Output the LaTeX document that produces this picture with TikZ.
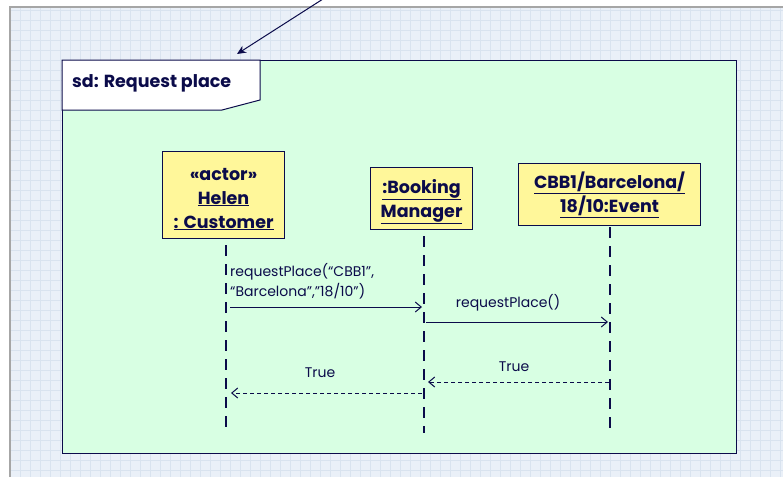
\documentclass[tikz,border=0pt]{standalone}
\usepackage{fontspec}
\setmainfont{Poppins}
\usetikzlibrary{arrows.meta}
\definecolor{ink}{HTML}{0B0B4A}
\definecolor{sheet}{HTML}{EAF0F8}
\definecolor{gridline}{HTML}{D9E3EF}
\definecolor{framefill}{HTML}{D8FFE3}
\definecolor{boxfill}{HTML}{FFF79A}
\newcommand{\toppad}{\rule{0pt}{20pt}}
\tikzset{
  x=1pt, y=-1pt,
  objbox/.style={draw=ink, line width=1.2pt, fill=boxfill, font=\fontsize{17.5}{24}\selectfont\bfseries,
    text=ink, align=center, inner sep=0pt},
  lifeline/.style={draw=ink, line width=2.6pt, dash pattern=on 11pt off 8pt},
  msg/.style={draw=ink, line width=1pt, -{Straight Barb[length=6pt,width=10pt]}},
  reply/.style={msg, dash pattern=on 4pt off 3pt},
  lbl/.style={text=ink, font=\fontsize{14}{20}\selectfont, inner sep=0pt},
}
\begin{document}
\begin{tikzpicture}
\useasboundingbox (0,0) rectangle (783,477);
\fill[white] (0,0) rectangle (783,477);
% grid sheet
\fill[sheet] (11,8) rectangle (783,477);
\draw[gridline, line width=0.4pt, step=10pt] (11,8) grid (783,477);
\draw[gray!70, line width=2pt] (10,477) -- (10,7) -- (783,7);
% frame
\node[draw=ink, line width=1pt, fill=framefill, minimum width=674pt, minimum height=393pt,
  anchor=north west, inner sep=0pt] (frame) at (62,60) {};
\draw[draw=ink, line width=1pt, fill=white] (62,60) -- (260,60) -- (260,100) -- (222,110) -- (62,110) -- cycle;
\node[anchor=west, text=ink, font=\fontsize{17.5}{20}\selectfont\bfseries, inner sep=0pt] (title) at (72,83) {sd: Request place};
\coordinate (noteend) at (323,-1);
\coordinate (tip) at (237,54);
\draw[ink, line width=1pt, -{Stealth[length=9pt,width=8pt]}] (noteend) -- (tip);
% objects
\node[objbox, minimum width=122pt, minimum height=87pt, anchor=north west] (helen) at (162,151)
  {\toppad«actor»\\\underline{Helen}\\\underline{: Customer}};
\node[objbox, minimum width=102pt, minimum height=62pt, anchor=north west] (booking) at (370,167)
  {\toppad\underline{:Booking}\\\underline{Manager}};
\node[objbox, minimum width=182pt, minimum height=62pt, anchor=north west] (event) at (518,163)
  {\underline{CBB1/Barcelona/}\\\underline{18/10:Event}};
% lifelines
\coordinate (hl0) at (226,245); \coordinate (hl1) at (226,428);
\coordinate (bl0) at (424,236); \coordinate (bl1) at (424,433);
\coordinate (el0) at (610,227); \coordinate (el1) at (610,433);
\draw[lifeline] (hl0) -- (hl1);
\draw[lifeline] (bl0) -- (bl1);
\draw[lifeline] (el0) -- (el1);
% messages
\coordinate (m1a) at (230,307); \coordinate (m1b) at (422,307);
\coordinate (m2a) at (426,322); \coordinate (m2b) at (608,322);
\coordinate (m3a) at (609,382); \coordinate (m3b) at (428,382);
\coordinate (m4a) at (422,393); \coordinate (m4b) at (231,393);
\draw[msg] (m1a) -- (m1b);
\draw[msg] (m2a) -- (m2b);
\draw[reply] (m3a) -- (m3b);
\draw[reply] (m4a) -- (m4b);
\node[lbl, anchor=west, align=left] (l1) at (230,281) {requestPlace(“CBB1”,\\“Barcelona”,”18/10”)};
\node[lbl] (l2) at (508,303) {requestPlace()};
\node[lbl] (l3) at (514,367) {True};
\node[lbl] (l4) at (320,373) {True};
\end{tikzpicture}
\end{document}
